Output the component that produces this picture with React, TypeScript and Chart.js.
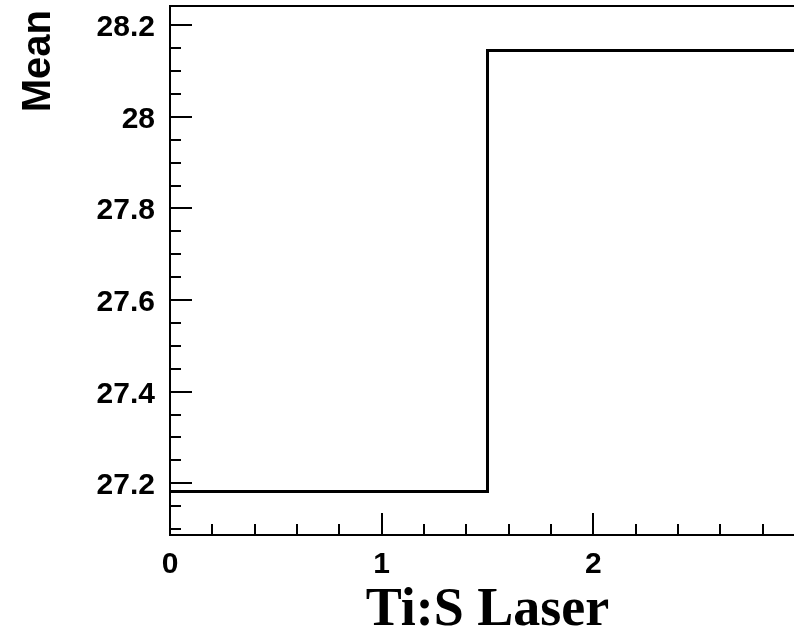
import React, { useEffect, useRef } from 'react';
import { Chart, registerables } from 'chart.js';

Chart.register(...registerables);

// ---- data ----
const binEdges = [0, 1.5, 3];
const binMeans = [27.182, 28.145];
const xTickLabels = ['0', '1', '2', '3'];
const yTickLabels = ['27.2', '27.4', '27.6', '27.8', '28', '28.2'];
const xTitle = 'Ti:S Laser';
const yTitle = 'Mean';
const xRange = [0, 3];
const yRange = [27.087, 28.242];

const rootAxesPlugin = {
  id: 'rootAxes',
  afterDatasetsDraw(chart: any) {
    const { ctx, chartArea, scales } = chart;
    const xs = scales.x;
    const ys = scales.y;
    const { left, right, top, bottom } = chartArea;
    ctx.save();
    ctx.strokeStyle = '#000';
    ctx.fillStyle = '#000';
    ctx.lineWidth = 2;
    // frame
    ctx.beginPath();
    ctx.moveTo(left, top);
    ctx.lineTo(right, top);
    ctx.lineTo(right, bottom);
    ctx.lineTo(left, bottom);
    ctx.closePath();
    ctx.stroke();

    // y ticks (every 0.05, major every 0.2)
    ctx.lineWidth = 2;
    for (let v = 2705; v <= 2825; v += 5) {
      const val = v / 100;
      if (val < yRange[0] || val > yRange[1]) continue;
      const major = v % 20 === 0;
      const py = Math.round(ys.getPixelForValue(val));
      ctx.beginPath();
      ctx.moveTo(left, py);
      ctx.lineTo(left + (major ? 22 : 11), py);
      ctx.stroke();
    }
    // x ticks (every 0.2, major every 1)
    for (let v = 0; v <= 30; v += 2) {
      const val = v / 10;
      const major = v % 10 === 0;
      const px = Math.round(xs.getPixelForValue(val));
      ctx.beginPath();
      ctx.moveTo(px, bottom);
      ctx.lineTo(px, bottom - (major ? 22 : 11));
      ctx.stroke();
    }

    // y labels
    ctx.font = 'bold 30px "Liberation Sans", Arial, sans-serif';
    ctx.textAlign = 'right';
    ctx.textBaseline = 'alphabetic';
    yTickLabels.forEach((lab) => {
      const py = ys.getPixelForValue(parseFloat(lab));
      ctx.fillText(lab, left - 15, py + 11);
    });
    // x labels
    ctx.textAlign = 'center';
    xTickLabels.forEach((lab) => {
      const px = xs.getPixelForValue(parseFloat(lab));
      ctx.fillText(lab, px, bottom + 38);
    });

    // x title
    ctx.font = 'bold 54px "Liberation Serif", "Times New Roman", serif';
    ctx.textAlign = 'center';
    ctx.fillText(xTitle, (left + right) / 2, 625);

    // y title
    ctx.save();
    ctx.font = 'bold 40px "Liberation Sans", Arial, sans-serif';
    ctx.translate(50, top + 4);
    ctx.rotate(-Math.PI / 2);
    ctx.textAlign = 'right';
    ctx.fillText(yTitle, 0, 0);
    ctx.restore();

    ctx.restore();
  },
};

export default function App() {
  const ref = useRef<HTMLCanvasElement | null>(null);
  useEffect(() => {
    if (!ref.current) return;
    const points = binMeans.map((m, i) => ({ x: binEdges[i], y: m }));
    points.push({ x: binEdges[binEdges.length - 1], y: binMeans[binMeans.length - 1] });
    const chart = new Chart(ref.current, {
      type: 'line',
      data: {
        datasets: [
          {
            data: points,
            stepped: 'before',
            borderColor: '#000',
            borderWidth: 3,
            pointRadius: 0,
            fill: false,
          },
        ],
      },
      options: {
        animation: false,
        responsive: false,
        devicePixelRatio: 1,
        layout: { padding: { left: 170, top: 6, right: 5, bottom: 105 } },
        plugins: { legend: { display: false }, tooltip: { enabled: false } },
        scales: {
          x: { type: 'linear', min: xRange[0], max: xRange[1], display: false },
          y: { type: 'linear', min: yRange[0], max: yRange[1], display: false },
        },
      },
      plugins: [rootAxesPlugin],
    });
    return () => chart.destroy();
  }, []);
  return (
    <div style={{ position: 'absolute', left: 0, top: 0, width: 794, height: 640, overflow: 'hidden', background: '#fff' }}>
      <canvas ref={ref} width={810} height={640} style={{ display: 'block' }} />
    </div>
  );
}
